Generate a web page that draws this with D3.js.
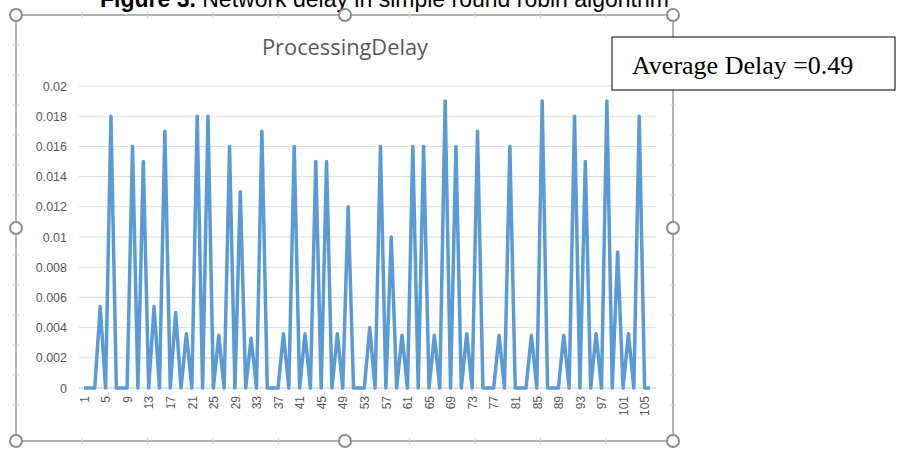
<!DOCTYPE html>
<html><head><meta charset="utf-8">
<script src="https://cdn.jsdelivr.net/npm/d3@7/dist/d3.min.js"></script>
<style>body{margin:0;background:#fff;}svg{display:block;}</style>
</head><body>
<svg id="c" width="908" height="449"></svg>
<script>
const figureLabel = "Figure 3.";
const figureCaption = " Network delay in simple round robin algorithm";
const chartTitle = "ProcessingDelay";
const noteText = "Average Delay =0.49";
const categories = d3.range(1, 107);
const delayValues = [
  0, 0, 0, 0.0054, 0, 0.018, 0, 0, 0, 0.016,
  0, 0.015, 0, 0.0054, 0, 0.017, 0, 0.005, 0, 0.0036,
  0, 0.018, 0, 0.018, 0, 0.0035, 0, 0.016, 0, 0.013,
  0, 0.0033, 0, 0.017, 0, 0, 0, 0.0036, 0, 0.016,
  0, 0.0036, 0, 0.015, 0, 0.015, 0, 0.0036, 0, 0.012,
  0, 0, 0, 0.004, 0, 0.016, 0, 0.010, 0, 0.0035,
  0, 0.016, 0, 0.016, 0, 0.0035, 0, 0.019, 0, 0.016,
  0, 0.0036, 0, 0.017, 0, 0, 0, 0.0035, 0, 0.016,
  0, 0, 0, 0.0035, 0, 0.019, 0, 0, 0, 0.0035,
  0, 0.018, 0, 0.015, 0, 0.0036, 0, 0.019, 0, 0.009,
  0, 0.0036, 0, 0.018, 0, 0
];
const yTicks = [0, 0.002, 0.004, 0.006, 0.008, 0.01, 0.012, 0.014, 0.016, 0.018, 0.02];
const xTickLabels = categories.filter(c => (c - 1) % 4 === 0);

const svg = d3.select("#c");

// Caption (cut off at top, as in the source figure)
const cap = svg.append("text").attr("x", 100).attr("y", 7)
  .attr("font-family", "Liberation Sans, Arial, sans-serif").attr("font-size", 23).attr("fill", "#000");
cap.append("tspan").attr("font-weight", "bold").text(figureLabel);
cap.append("tspan").text(figureCaption);

// Frame
const fx0 = 16, fx1 = 673, fy0 = 15, fy1 = 441;
svg.append("rect").attr("x", fx0).attr("y", fy0).attr("width", fx1 - fx0).attr("height", fy1 - fy0)
  .attr("fill", "none").attr("stroke", "#9a9a9a").attr("stroke-width", 1.5);
const fm = svg.append("g").attr("stroke", "#cfcfcf").attr("stroke-width", 1);
d3.range(fx0 + 66, fx1, 65.5).forEach(xx => {
  fm.append("line").attr("x1", xx).attr("x2", xx).attr("y1", fy0 - 3).attr("y2", fy0 + 3);
  fm.append("line").attr("x1", xx).attr("x2", xx).attr("y1", fy1 - 3).attr("y2", fy1 + 3);
});
d3.range(fy0 + 30, fy1, 30).forEach(yy => {
  fm.append("line").attr("x1", fx0 - 3).attr("x2", fx0 + 3).attr("y1", yy).attr("y2", yy);
  fm.append("line").attr("x1", fx1 - 3).attr("x2", fx1 + 3).attr("y1", yy).attr("y2", yy);
});

// Scales
const x = d3.scalePoint().domain(categories).range([84, 650]);
const y = d3.scaleLinear().domain([0, 0.02]).range([388, 86]);

// Gridlines
svg.append("g").selectAll("line").data(yTicks).join("line")
  .attr("x1", 79).attr("x2", 656)
  .attr("y1", d => y(d)).attr("y2", d => y(d))
  .attr("stroke", "#dcdcdc").attr("stroke-width", 1);

// Y axis
const yAxis = svg.append("g").attr("transform", "translate(70,0)")
  .call(d3.axisLeft(y).tickValues(yTicks).tickSize(0).tickPadding(3).tickFormat(d => d === 0 ? "0" : String(+d.toFixed(3))));
yAxis.select(".domain").remove();
yAxis.selectAll("text").attr("font-family", "Liberation Sans, Arial, sans-serif").attr("font-size", 12.5).attr("fill", "#595959");

// X axis
const xAxis = svg.append("g").attr("transform", "translate(0,388)")
  .call(d3.axisBottom(x).tickValues(xTickLabels).tickSize(0).tickPadding(0));
xAxis.select(".domain").attr("stroke", "#d9d9d9").attr("d", "M79,0H656");
xAxis.selectAll("text")
  .attr("font-family", "Liberation Sans, Arial, sans-serif").attr("font-size", 12).attr("fill", "#595959")
  .attr("transform", "rotate(-90)").attr("text-anchor", "end")
  .attr("x", -8).attr("y", 0).attr("dy", "0.35em");

// Line
svg.append("path").datum(delayValues)
  .attr("fill", "none").attr("stroke", "#5b9bd5").attr("stroke-width", 3.5).attr("stroke-linejoin", "round")
  .attr("d", d3.line().x((d, i) => x(categories[i])).y(d => y(d)));

// Chart title
svg.append("text").attr("x", 345).attr("y", 55).attr("text-anchor", "middle")
  .attr("font-family", "Open Sans, sans-serif").attr("font-size", 21).attr("fill", "#595959")
  .attr("textLength", 166).attr("lengthAdjust", "spacingAndGlyphs")
  .text(chartTitle);

// Handles
const handles = [[fx0, fy0], [345, fy0], [fx1, fy0], [fx0, 228], [fx1, 228], [fx0, fy1], [345, fy1], [fx1, fy1]];
svg.append("g").selectAll("circle").data(handles).join("circle")
  .attr("cx", d => d[0]).attr("cy", d => d[1]).attr("r", 6)
  .attr("fill", "#fff").attr("stroke", "#8c8c8c").attr("stroke-width", 2);

// Note box
svg.append("rect").attr("x", 612).attr("y", 37).attr("width", 283).attr("height", 53)
  .attr("fill", "#fff").attr("stroke", "#000").attr("stroke-width", 1);
svg.append("text").attr("x", 632).attr("y", 74)
  .attr("font-family", "Liberation Serif, Times New Roman, serif").attr("font-size", 26).attr("fill", "#000")
  .text(noteText);
</script>
</body></html>
